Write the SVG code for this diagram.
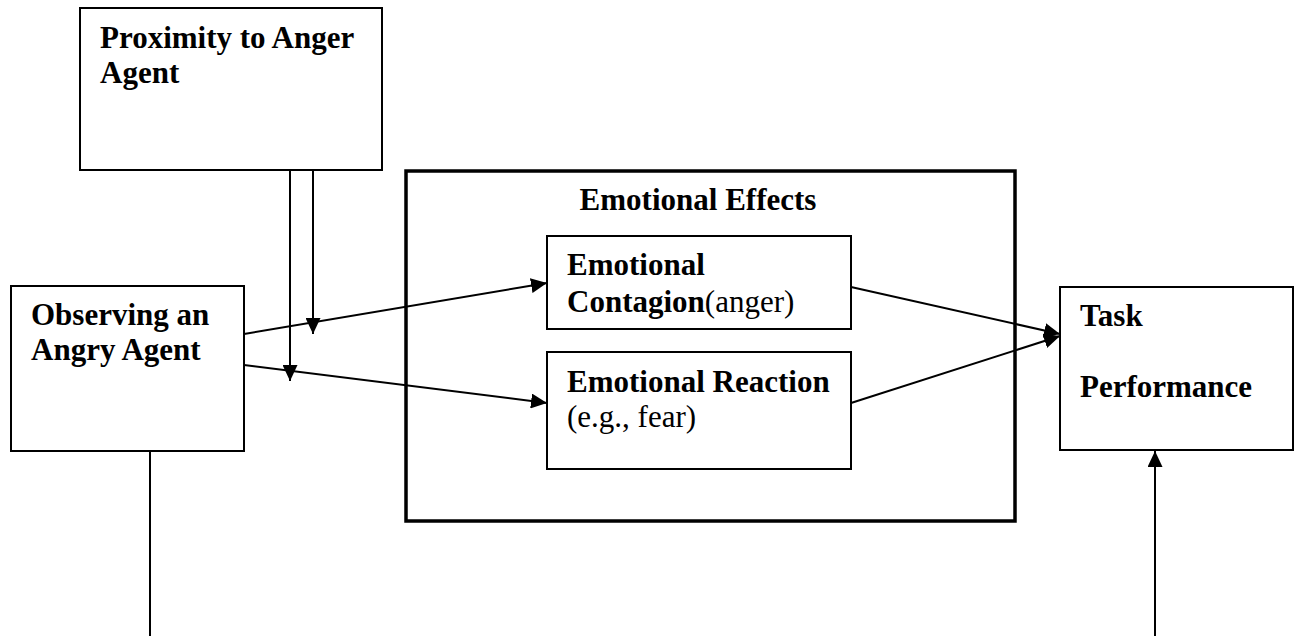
<svg xmlns="http://www.w3.org/2000/svg" width="1303" height="636" viewBox="0 0 1303 636">
<style>
.box{fill:#fff;stroke:#000;stroke-width:2}
.big{fill:none;stroke:#000;stroke-width:3.5}
.t{font-family:"Liberation Serif","Times New Roman",serif;font-size:31px;fill:#000}
.b{font-weight:bold}
.c{fill:none;stroke:#000;stroke-width:2}
</style>
<defs>
<marker id="ah" markerUnits="userSpaceOnUse" markerWidth="17" markerHeight="15" refX="16" refY="7.5" orient="auto">
<path d="M0,0 L16,7.5 L0,15 z" fill="#000"/>
</marker>
</defs>
<rect width="1303" height="636" fill="#fff"/>
<g id="emotional-effects">
<rect class="big" x="406" y="171" width="609" height="350"/>
<text class="t b" x="698" y="210" text-anchor="middle">Emotional Effects</text>
</g>
<g id="proximity">
<rect class="box" x="80" y="8" width="302" height="162"/>
<text class="t b" x="100" y="48">Proximity to Anger</text>
<text class="t b" x="100" y="83">Agent</text>
</g>
<g id="observing">
<rect class="box" x="11" y="286" width="233" height="165"/>
<text class="t b" x="31" y="325">Observing an</text>
<text class="t b" x="31" y="360">Angry Agent</text>
</g>
<g id="contagion">
<rect class="box" x="547" y="236" width="304" height="93"/>
<text class="t b" x="567" y="275">Emotional</text>
<text class="t" x="567" y="312"><tspan class="b">Contagion</tspan>(anger)</text>
</g>
<g id="reaction">
<rect class="box" x="547" y="352" width="304" height="117"/>
<text class="t b" x="567" y="392">Emotional Reaction</text>
<text class="t" x="567" y="427">(e.g., fear)</text>
</g>
<g id="task">
<rect class="box" x="1060" y="287" width="233" height="163"/>
<text class="t b" x="1080" y="326">Task</text>
<text class="t b" x="1080" y="397">Performance</text>
</g>
<g id="connectors">
<line class="c" x1="313" y1="171" x2="313" y2="334" marker-end="url(#ah)"/>
<line class="c" x1="290" y1="171" x2="290" y2="381" marker-end="url(#ah)"/>
<line class="c" x1="244" y1="334" x2="547" y2="283" marker-end="url(#ah)"/>
<line class="c" x1="244" y1="365" x2="547" y2="403" marker-end="url(#ah)"/>
<line class="c" x1="851" y1="287" x2="1060" y2="334" marker-end="url(#ah)"/>
<line class="c" x1="851" y1="403" x2="1060" y2="336" marker-end="url(#ah)"/>
<line class="c" x1="150" y1="451" x2="150" y2="636"/>
<line class="c" x1="1155" y1="636" x2="1155" y2="451" marker-end="url(#ah)"/>
</g>
</svg>
